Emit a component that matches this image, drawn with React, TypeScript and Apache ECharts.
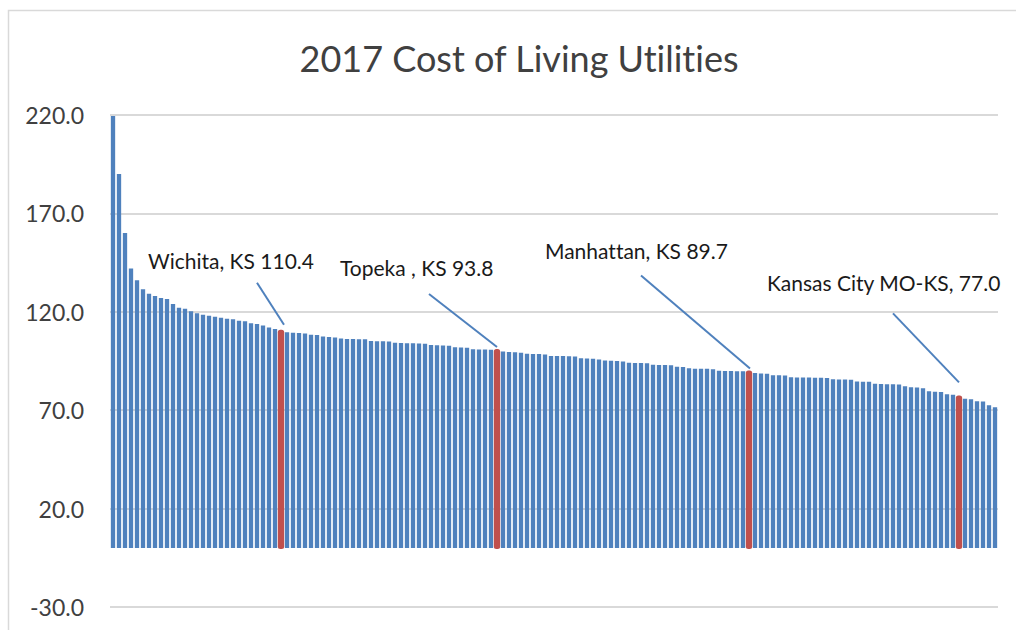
import React, { useEffect, useRef } from "react";
import * as echarts from "echarts";

// ---- data ----
const values: number[] = [
  219.5, 190, 160, 142, 136, 131.5, 129.2, 128, 127, 126.5,
  124, 122, 121.5, 120.3, 119.3, 118.5, 118, 117.5, 117, 116.5,
  116.2, 115.5, 115.2, 114.2, 113.8, 113, 112, 111.3, 110.4, 109.6,
  109.4, 109.2, 109, 108.4, 108.2, 107.4, 107.2, 107, 106.4, 106.2,
  106.2, 106.1, 106, 105.2, 105, 105, 104.9, 104.3, 104.2, 104,
  104, 103.9, 103.8, 103.1, 103, 102.9, 102.8, 102, 101.8, 101.7,
  101, 100.9, 100.8, 100.7, 100.6, 99.8, 99.6, 99.5, 99.2, 98.7,
  98.6, 98.5, 98.3, 97.6, 97.5, 97.5, 97.4, 97.3, 96.4, 96.3,
  96.2, 95.8, 95.2, 95.1, 95, 94.8, 94.1, 94, 94, 93.8,
  93.1, 93, 93, 92.8, 92.1, 92, 91.3, 91.1, 91, 91,
  90.8, 90, 89.9, 89.9, 89.8, 89.8, 89.7, 88.9, 88.7, 88.5,
  87.8, 87.7, 87.6, 86.7, 86.6, 86.6, 86.6, 86.5, 86.5, 86.4,
  85.7, 85.6, 85.6, 85.5, 84.6, 84.5, 84.5, 83.4, 83.3, 83.2,
  83.2, 83.1, 82.2, 81.6, 81.5, 81.2, 79.6, 79.4, 79.2, 78.1,
  77.8, 77.0, 75.8, 75.6, 74.6, 74.4, 72.5, 71.5,
];

const highlightIndex: number[] = [28, 64, 106, 141];
const highlightNames: string[] = ["Wichita, KS", "Topeka, KS", "Manhattan, KS", "Kansas City MO-KS"];
const highlightLabels: string[] = [
  "Wichita, KS 110.4",
  "Topeka , KS 93.8",
  "Manhattan, KS 89.7",
  "Kansas City MO-KS, 77.0",
];

const yMin = -30;
const yMax = 220;
const yInterval = 50;

const titleText = "2017 Cost of Living Utilities";

const categories: string[] = values.map((_, i) => {
  const k = highlightIndex.indexOf(i);
  return k >= 0 ? highlightNames[k] : `Area ${i + 1}`;
});

// ---- layout of annotation callouts, relative to the bar top (pixels) ----
const annotationOffsets = [
  { end: [3, -6], start: [-24, -48], text: [-133, -70] },
  { end: [0, -3], start: [-68, -56], text: [-157, -82] },
  { end: [1, -3], start: [-108, -96], text: [-204, -121] },
  { end: [0, -14], start: [-66, -83], text: [-192, -114] },
];

const BLUE = "#4f81bd";
const RED = "#c0504d";
const FONT = "Lato";
const BAR_FRACTION = 0.72;

export default function App() {
  const ref = useRef<HTMLDivElement>(null);

  useEffect(() => {
    if (!ref.current) return;
    const chart = echarts.init(ref.current, undefined, { renderer: "svg" });

    const borderRect = {
      type: "rect",
      shape: { x: 8.5, y: 10.5, width: 1200, height: 800 },
      style: { fill: "none", stroke: "#d9d9d9", lineWidth: 1.5 },
      silent: true,
      z: -10,
    };

    chart.setOption({
      animation: false,
      backgroundColor: "#ffffff",
      title: {
        text: titleText,
        left: 519,
        top: 40,
        textAlign: "center",
        padding: 0,
        textStyle: {
          fontFamily: FONT,
          fontSize: 36,
          fontWeight: "normal",
          color: "#404040",
          lineHeight: 36,
        },
      },
      grid: { left: 110, right: 18, top: 115, bottom: 23, containLabel: false },
      xAxis: {
        type: "category",
        data: categories,
        axisLine: { show: false },
        axisTick: { show: false },
        axisLabel: { show: false },
        splitLine: { show: false },
      },
      yAxis: {
        type: "value",
        min: yMin,
        max: yMax,
        interval: yInterval,
        axisLine: { show: false },
        axisTick: { show: false },
        axisLabel: {
          formatter: (v: number) => v.toFixed(1),
          fontFamily: FONT,
          fontSize: 23,
          color: "#404040",
          margin: 26,
        },
        splitLine: { lineStyle: { color: "#d9d9d9", width: 2 } },
      },
      series: [
        {
          type: "bar",
          barCategoryGap: `${Math.round((1 - BAR_FRACTION) * 100)}%`,
          itemStyle: { color: BLUE },
          data: values,
        },
        {
          type: "custom",
          z: 5,
          encode: { x: 0, y: 1 },
          data: highlightIndex.map((i) => [i, values[i]]),
          renderItem: (params: any, api: any) => {
            const idx = api.value(0);
            const v = api.value(1);
            const top = api.coord([idx, v]);
            const base = api.coord([idx, 0]);
            const band = api.size([1, 0])[0];
            const w = band * BAR_FRACTION + 2;
            return {
              type: "rect",
              shape: { x: top[0] - w / 2, y: top[1] - 1, width: w, height: base[1] - top[1] + 2, r: 2.5 },
              style: { fill: RED },
            };
          },
        },
      ],
      graphic: { elements: [borderRect] },
    });

    const extra: any[] = [borderRect];
    highlightIndex.forEach((idx, k) => {
      const p = chart.convertToPixel({ xAxisIndex: 0, yAxisIndex: 0 }, [idx, values[idx]]) as number[];
      const o = annotationOffsets[k];
      extra.push({
        type: "line",
        shape: {
          x1: p[0] + o.start[0],
          y1: p[1] + o.start[1],
          x2: p[0] + o.end[0],
          y2: p[1] + o.end[1],
        },
        style: { stroke: BLUE, lineWidth: 2 },
        z: 100,
      });
      extra.push({
        type: "text",
        x: p[0] + o.text[0],
        y: p[1] + o.text[1],
        style: {
          text: highlightLabels[k],
          fill: "#1a1a1a",
          fontFamily: FONT,
          fontSize: 21,
          align: "left",
          verticalAlign: "middle",
          textAlign: "left",
          textVerticalAlign: "middle",
        },
        z: 100,
      });
    });
    chart.setOption({ graphic: { elements: extra } });

    return () => chart.dispose();
  }, []);

  return (
    <>
      <style>{`#root svg text { font-variant-ligatures: none !important; font-feature-settings: "liga" 0, "clig" 0 !important; }`}</style>
      <div
        ref={ref}
        style={{ position: "fixed", left: 0, top: 0, width: 1016, height: 630, background: "#fff" }}
      />
    </>
  );
}
